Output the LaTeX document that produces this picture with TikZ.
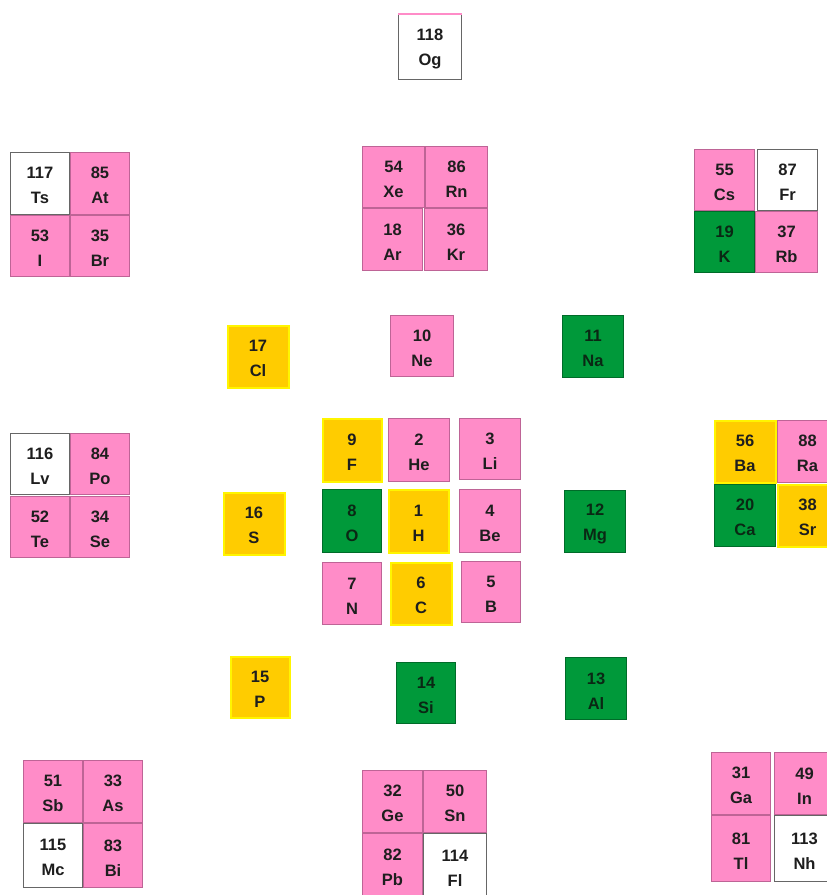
\documentclass[tikz,border=0pt]{standalone}
\usepackage{fontspec}
\setmainfont{Liberation Sans}
\definecolor{pk}{RGB}{255,140,200}
\definecolor{pkline}{RGB}{190,100,150}
\definecolor{gr}{RGB}{0,153,58}
\definecolor{yl}{RGB}{255,204,0}
\definecolor{ylline}{RGB}{255,245,0}
\definecolor{txt}{RGB}{30,30,30}
\tikzset{
  cellbase/.style={rectangle, inner sep=0pt, align=center, text=txt,
    font=\fontsize{16.5}{25}\selectfont\bfseries},
  pinkcell/.style={cellbase, fill=pk, draw=pkline, line width=0.8pt},
  greencell/.style={cellbase, fill=gr, draw=gr!70!black, line width=0.6pt, text={rgb,255:red,10;green,40;blue,20}},
  yellowcell/.style={cellbase, fill=yl, draw=ylline, line width=2pt},
  whitecell/.style={cellbase, fill=white, draw=gray!80!black, line width=0.8pt},
}
\newcommand\elem[8]{%
  \node[#6, minimum width={(#4-#2-1)*1pt}, minimum height={(#5-#3-1)*1pt}]
    (#1) at ({(#2+#4)/2},{(#3+#5)/2}) {\rule{0pt}{16pt}#7\\#8};}
\begin{document}
\begin{tikzpicture}[x=1pt,y=-1pt]
\useasboundingbox (0,0) rectangle (827,895);
% Og
\elem{Og}{398}{14}{462}{80}{whitecell}{118}{Og}
\draw[pk, line width=1.5pt] (Og.north west) -- (Og.north east);
% Ts At I Br
\elem{Ts}{10}{152}{70}{215}{whitecell}{117}{Ts}
\elem{At}{70}{152}{130}{215}{pinkcell}{85}{At}
\elem{I}{10}{215}{70}{277}{pinkcell}{53}{I}
\elem{Br}{70}{215}{130}{277}{pinkcell}{35}{Br}
% Xe Rn Ar Kr
\elem{Xe}{362}{146}{425}{208}{pinkcell}{54}{Xe}
\elem{Rn}{425}{146}{488}{208}{pinkcell}{86}{Rn}
\elem{Ar}{362}{208}{423}{271}{pinkcell}{18}{Ar}
\elem{Kr}{424}{208}{488}{271}{pinkcell}{36}{Kr}
% Cs Fr K Rb
\elem{Cs}{694}{149}{755}{211}{pinkcell}{55}{Cs}
\elem{Fr}{757}{149}{818}{211}{whitecell}{87}{Fr}
\elem{K}{694}{211}{755}{273}{greencell}{19}{K}
\elem{Rb}{755}{211}{818}{273}{pinkcell}{37}{Rb}
% ring 3
\elem{Cl}{227}{325}{289}{388}{yellowcell}{17}{Cl}
\elem{Ne}{390}{315}{454}{377}{pinkcell}{10}{Ne}
\elem{Na}{562}{315}{624}{378}{greencell}{11}{Na}
% center
\elem{F}{322}{418}{382}{482}{yellowcell}{9}{F}
\elem{He}{388}{418}{450}{482}{pinkcell}{2}{He}
\elem{Li}{459}{418}{521}{480}{pinkcell}{3}{Li}
\elem{O}{322}{489}{382}{553}{greencell}{8}{O}
\elem{H}{388}{489}{449}{553}{yellowcell}{1}{H}
\elem{Be}{459}{489}{521}{553}{pinkcell}{4}{Be}
\elem{N}{322}{562}{382}{625}{pinkcell}{7}{N}
\elem{C}{390}{562}{452}{625}{yellowcell}{6}{C}
\elem{B}{461}{561}{521}{623}{pinkcell}{5}{B}
% sides
\elem{S}{223}{492}{285}{555}{yellowcell}{16}{S}
\elem{Mg}{564}{490}{626}{553}{greencell}{12}{Mg}
\elem{P}{230}{656}{290}{718}{yellowcell}{15}{P}
\elem{Si}{396}{662}{456}{724}{greencell}{14}{Si}
\elem{Al}{565}{657}{627}{720}{greencell}{13}{Al}
% Ba Ra Ca Sr
\elem{Ba}{714}{420}{776}{483}{yellowcell}{56}{Ba}
\elem{Ra}{777}{420}{838}{483}{pinkcell}{88}{Ra}
\elem{Ca}{714}{484}{776}{547}{greencell}{20}{Ca}
\elem{Sr}{777}{484}{838}{547}{yellowcell}{38}{Sr}
% Lv Po Te Se
\elem{Lv}{10}{433}{70}{495}{whitecell}{116}{Lv}
\elem{Po}{70}{433}{130}{495}{pinkcell}{84}{Po}
\elem{Te}{10}{496}{70}{558}{pinkcell}{52}{Te}
\elem{Se}{70}{496}{130}{558}{pinkcell}{34}{Se}
% Sb As Mc Bi
\elem{Sb}{23}{760}{83}{823}{pinkcell}{51}{Sb}
\elem{As}{83}{760}{143}{823}{pinkcell}{33}{As}
\elem{Mc}{23}{823}{83}{888}{whitecell}{115}{Mc}
\elem{Bi}{83}{823}{143}{888}{pinkcell}{83}{Bi}
% Ge Sn Pb Fl
\elem{Ge}{362}{770}{423}{833}{pinkcell}{32}{Ge}
\elem{Sn}{423}{770}{487}{833}{pinkcell}{50}{Sn}
\elem{Pb}{362}{833}{423}{898}{pinkcell}{82}{Pb}
\elem{Fl}{423}{833}{487}{898}{whitecell}{114}{Fl}
% Ga In Tl Nh
\elem{Ga}{711}{752}{771}{815}{pinkcell}{31}{Ga}
\elem{In}{774}{752}{835}{815}{pinkcell}{49}{In}
\elem{Tl}{711}{815}{771}{882}{pinkcell}{81}{Tl}
\elem{Nh}{774}{815}{835}{882}{whitecell}{113}{Nh}
\end{tikzpicture}
\end{document}
